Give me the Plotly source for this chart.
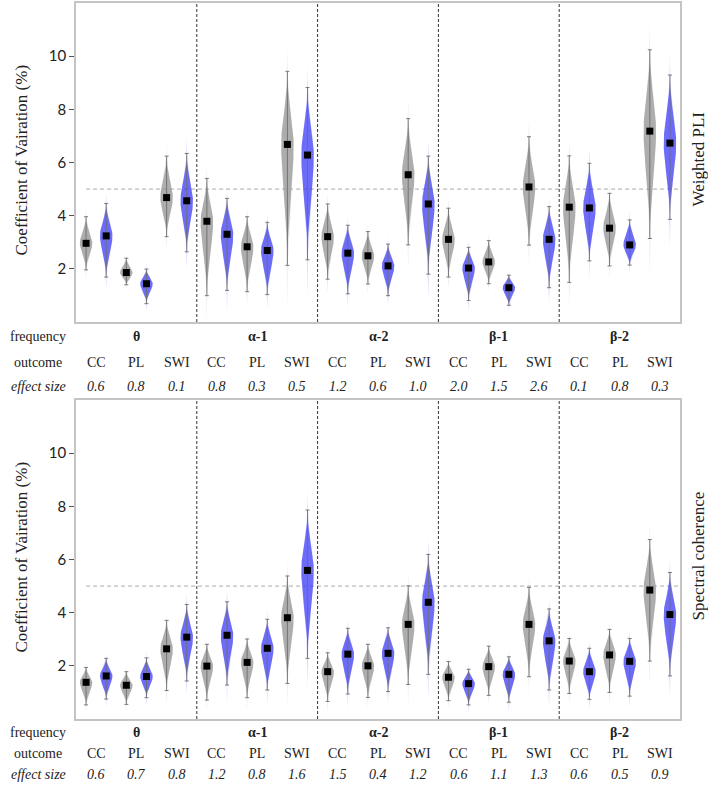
import numpy as np
import plotly.graph_objects as go

frequencies = ["θ", "α-1", "α-2", "β-1", "β-2"]
outcomes = ["CC", "PL", "SWI"]
row_labels = ["frequency", "outcome", "effect size"]
panel_names = ["Weighted PLI", "Spectral coherence"]
y_title = "Coefficient of Vairation (%)"
y_ticks = [2, 4, 6, 8, 10]
threshold = 5

# Weighted PLI panel (order: frequency-major, outcome-minor)
wpli_gray_mean = [2.96, 1.86, 4.68, 3.79, 2.83, 6.68, 3.21, 2.49, 5.54, 3.11, 2.26, 5.08, 4.32, 3.53, 7.18]
wpli_gray_lo = [1.96, 1.40, 3.21, 0.99, 1.14, 2.13, 1.61, 1.43, 2.90, 1.69, 1.44, 2.89, 1.49, 2.11, 3.14]
wpli_gray_hi = [3.96, 2.40, 6.24, 5.40, 3.96, 9.43, 4.44, 3.40, 7.65, 4.28, 3.06, 6.97, 6.25, 4.84, 10.24]
wpli_blue_mean = [3.24, 1.44, 4.56, 3.30, 2.69, 6.28, 2.59, 2.11, 4.44, 2.03, 1.29, 3.11, 4.29, 2.90, 6.73]
wpli_blue_lo = [1.69, 0.69, 2.64, 1.19, 1.03, 2.34, 1.06, 0.99, 1.80, 0.81, 0.63, 1.29, 2.30, 2.14, 3.86]
wpli_blue_hi = [4.46, 1.99, 6.34, 4.65, 3.75, 8.82, 3.64, 2.93, 6.24, 2.81, 1.76, 4.34, 5.97, 3.84, 9.29]
wpli_effect = ["0.6", "0.8", "0.1", "0.8", "0.3", "0.5", "1.2", "0.6", "1.0",
               "2.0", "1.5", "2.6", "0.1", "0.8", "0.3"]

# Spectral coherence panel
coh_gray_mean = [1.38, 1.27, 2.64, 1.99, 2.13, 3.81, 1.78, 2.00, 3.56, 1.57, 1.97, 3.56, 2.18, 2.41, 4.85]
coh_gray_lo = [0.53, 0.55, 1.07, 0.71, 0.80, 1.34, 0.66, 0.81, 1.30, 0.69, 0.89, 1.59, 0.96, 1.00, 2.18]
coh_gray_hi = [1.94, 1.78, 3.71, 2.81, 3.01, 5.38, 2.49, 2.81, 5.01, 2.16, 2.74, 4.95, 3.03, 3.37, 6.75]
coh_blue_mean = [1.62, 1.60, 3.08, 3.15, 2.66, 5.59, 2.44, 2.47, 4.39, 1.33, 1.68, 2.94, 1.78, 2.17, 3.93]
coh_blue_lo = [0.75, 0.80, 1.43, 1.28, 1.09, 2.28, 0.94, 1.03, 1.68, 0.53, 0.63, 1.09, 0.74, 0.86, 1.62]
coh_blue_hi = [2.28, 2.30, 4.31, 4.41, 3.75, 7.86, 3.41, 3.43, 6.19, 1.87, 2.34, 4.14, 2.66, 3.03, 5.51]
coh_effect = ["0.6", "0.7", "0.8", "1.2", "0.8", "1.6", "1.5", "0.4", "1.2",
              "0.6", "1.1", "1.3", "0.6", "0.5", "0.9"]

panels = [
    dict(gm=wpli_gray_mean, gl=wpli_gray_lo, gh=wpli_gray_hi,
         bm=wpli_blue_mean, bl=wpli_blue_lo, bh=wpli_blue_hi, eff=wpli_effect),
    dict(gm=coh_gray_mean, gl=coh_gray_lo, gh=coh_gray_hi,
         bm=coh_blue_mean, bl=coh_blue_lo, bh=coh_blue_hi, eff=coh_effect),
]

W, H = 708, 787
X0, X1 = 76, 680
panel_px = [(3, 322), (400, 719)]
table_px = [(337, 362, 386), (732, 753, 774)]

GRAY = (150, 150, 150)
BLUE = (65, 65, 245)
HALF_W = 0.31
SERIF = "Liberation Serif, Times New Roman, serif"
SANS = "Lato, Open Sans, sans-serif"


def px(p):
    return p / W


def py(p):
    return 1 - p / H


def violin_outline(xc, m, lo, hi, thr, span):
    su = max(hi - m, 0.05) / 2.4
    sd = max(m - lo, 0.05) / 2.4
    ys = np.linspace(m - span * sd, m + span * su, 160)
    z = np.where(ys >= m, (ys - m) / su, (ys - m) / sd)
    g = np.exp(-0.5 * z * z)
    w = HALF_W * np.clip((g - thr) / (1 - thr), 0, None)
    xs = np.concatenate([xc - w, (xc + w)[::-1]])
    yy = np.concatenate([ys, ys[::-1]])
    return xs, yy


fig = go.Figure()
n_out = len(outcomes)
n_grp = len(frequencies) * n_out

for pi, P in enumerate(panels):
    xa = "x" if pi == 0 else "x2"
    ya = "y" if pi == 0 else "y2"
    for series, col, off in (("g", GRAY, 0.5), ("b", BLUE, 1.5)):
        means, los, his = P[series + "m"], P[series + "l"], P[series + "h"]
        xcs = [2 * i + off for i in range(n_grp)]
        for xc, m, lo, hi in zip(xcs, means, los, his):
            for thr, alpha, span in ((0.0, 0.2, 3.2), (0.1, 0.72, 2.2)):
                xs, yy = violin_outline(xc, m, lo, hi, thr, span)
                fig.add_trace(go.Scatter(
                    x=xs, y=yy, mode="lines", fill="toself",
                    fillcolor=f"rgba({col[0]},{col[1]},{col[2]},{alpha})",
                    line=dict(width=0), hoverinfo="skip", showlegend=False,
                    xaxis=xa, yaxis=ya))
        fig.add_trace(go.Scatter(
            x=xcs, y=means, mode="markers",
            marker=dict(symbol="square", size=7, color="black"),
            error_y=dict(type="data", symmetric=False,
                         array=[h - m for h, m in zip(his, means)],
                         arrayminus=[m - l for m, l in zip(means, los)],
                         color="rgba(110,110,110,0.9)", thickness=1, width=2),
            showlegend=False, xaxis=xa, yaxis=ya))

    fig.add_shape(type="line", xref=xa, yref=ya, x0=0.5, x1=2 * n_grp, y0=threshold, y1=threshold,
                  line=dict(color="#aaaaaa", width=1, dash="4px,3px"), layer="below")
    for k in range(1, len(frequencies)):
        xd = k * 2 * n_out
        fig.add_shape(type="line", xref=xa, yref=ya + " domain", x0=xd, x1=xd, y0=0, y1=1,
                      line=dict(color="#333333", width=1, dash="3px,2px"))

    top, bot = panel_px[pi]
    fig.add_annotation(x=px(21), y=py((top + bot) / 2 - 2), xref="paper", yref="paper",
                       xanchor="center", yanchor="middle",
                       text=y_title, textangle=-90, showarrow=False,
                       font=dict(family=SERIF, size=17, color="#222"))
    fig.add_annotation(x=px(698), y=py((top + bot) / 2 - 3), xref="paper", yref="paper",
                       xanchor="center", yanchor="middle",
                       text=panel_names[pi], textangle=-90, showarrow=False,
                       font=dict(family=SERIF, size=17, color="#222"))

    ty = table_px[pi]
    for r, lab in enumerate(row_labels):
        txt = f"<i>{lab}</i>" if r == 2 else lab
        fig.add_annotation(x=px(38), y=py(ty[r]), xref="paper", yref="paper", text=txt,
                           xanchor="center", yanchor="middle",
                           showarrow=False, font=dict(family=SERIF, size=14, color="#222"))
    for fi, fr in enumerate(frequencies):
        fig.add_annotation(x=fi * 2 * n_out + n_out, y=py(ty[0]), xref=xa, yref="paper",
                           xanchor="center", yanchor="middle",
                           text=f"<b>{fr}</b>", showarrow=False,
                           font=dict(family=SERIF, size=14, color="#222"))
        for oi, oc in enumerate(outcomes):
            j = fi * n_out + oi
            xc = 2 * j + 1
            fig.add_annotation(x=xc, y=py(ty[1]), xref=xa, yref="paper", text=oc,
                               xanchor="center", yanchor="middle",
                               showarrow=False, font=dict(family=SERIF, size=14, color="#222"))
            fig.add_annotation(x=xc, y=py(ty[2]), xref=xa, yref="paper",
                               xanchor="center", yanchor="middle",
                               text=f"<i>{P['eff'][j]}</i>", showarrow=False,
                               font=dict(family=SERIF, size=14, color="#222"))

xaxis_common = dict(range=[0, 2 * n_grp], showticklabels=False, ticks="", showgrid=False,
                    zeroline=False, showline=True, mirror=True, linecolor="#c4c4c4", linewidth=1.5,
                    domain=[px(X0), px(X1)])
yaxis_common = dict(range=[0, 12], tickvals=y_ticks, ticks="outside", ticklen=5, tickwidth=1,
                    tickcolor="#555", showgrid=False, zeroline=False, showline=True, mirror=True,
                    linecolor="#c4c4c4", linewidth=1.5,
                    tickfont=dict(family=SANS, size=15, color="#222"))

fig.update_layout(
    width=W, height=H, margin=dict(l=0, r=0, t=0, b=0),
    paper_bgcolor="white", plot_bgcolor="white", showlegend=False,
    xaxis=dict(**xaxis_common, anchor="y"),
    yaxis=dict(**yaxis_common, anchor="x", domain=[py(panel_px[0][1]), py(panel_px[0][0])]),
    xaxis2=dict(**xaxis_common, anchor="y2"),
    yaxis2=dict(**yaxis_common, anchor="x2", domain=[py(panel_px[1][1]), py(panel_px[1][0])]),
)

fig.write_html(
    "out.html",
    config={"displayModeBar": False},
    post_script="document.body.style.margin='0';document.documentElement.style.overflow='hidden';",
)
